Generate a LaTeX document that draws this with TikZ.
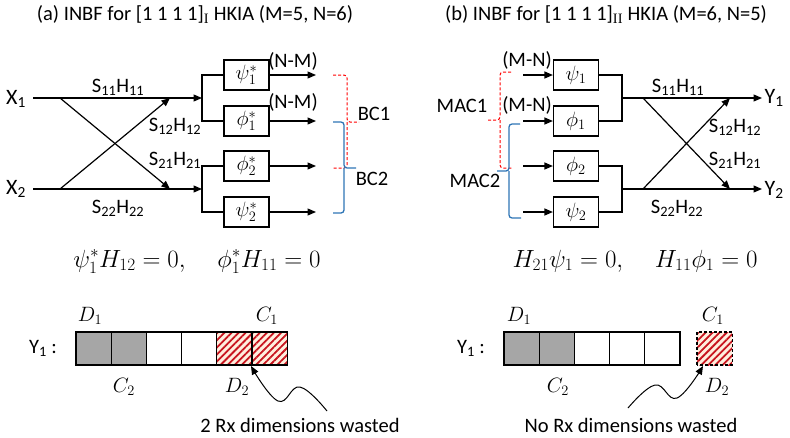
\documentclass[tikz,border=0pt]{standalone}
\usepackage{fontspec}
\setmainfont{Carlito}
\newfontfamily\serifsub{Liberation Serif}
\usetikzlibrary{arrows.meta,patterns.meta}
\definecolor{bblue}{RGB}{46,117,182}
\definecolor{hred}{RGB}{200,20,30}
\definecolor{hbg}{RGB}{255,238,222}
\definecolor{cgray}{RGB}{166,166,166}
\begin{document}
\begin{tikzpicture}[x=1pt,y=-1pt,line width=1.2pt,
  >={Triangle[length=8.5pt,width=7pt]},
  every node/.style={font=\fontsize{20.5}{24}\selectfont},
  mth/.style={font=\fontsize{22.5}{26}\selectfont},
  bx/.style={draw,minimum width=45pt,minimum height=30pt,inner sep=0pt,mth},
  lbl/.style={anchor=base,inner sep=0pt},
  big/.style={font=\fontsize{22}{26}\selectfont},
  cell/.style={draw,minimum width=35.2pt,minimum height=33pt,inner sep=0pt,outer sep=0pt},
  grayc/.style={cell,fill=cgray},
  hatchc/.style={cell,preaction={fill=hbg},pattern={Lines[angle=45,distance=5pt,line width=1.8pt]},pattern color=hred},
  rbrace/.style={red,line width=1pt,dash pattern=on 3pt off 2pt,rounded corners=3pt},
  bbrace/.style={bblue,line width=1.3pt,rounded corners=3pt}]
\useasboundingbox (0,0) rectangle (790,437);

% titles
\node[lbl] (ta) at (195,20) {(a) INBF for [1 1 1 1]\textsubscript{\serifsub I} HKIA (M=5, N=6)};
\node[lbl] (tb) at (606,20) {(b) INBF for [1 1 1 1]\textsubscript{\serifsub II} HKIA (M=6, N=5)};

% ---------- panel a ----------
\node[lbl,big] (x1) at (16,104) {X\textsubscript{1}};
\node[lbl,big] (x2) at (16,194) {X\textsubscript{2}};
\coordinate (x1s) at (33,98);
\coordinate (x2s) at (33,189);
\coordinate (x1c) at (60,98);
\coordinate (x2c) at (60,189);
\coordinate (x1m) at (170,98);
\coordinate (x2m) at (170,189);
\coordinate (s1) at (202,98);
\coordinate (s2) at (202,189);
\node[bx] (pa1) at (246.5,75) {$\psi_1^*$};
\node[bx] (pa2) at (246.5,121) {$\phi_1^*$};
\node[bx] (pa3) at (246.5,166) {$\phi_2^*$};
\node[bx] (pa4) at (246.5,212) {$\psi_2^*$};
\coordinate (oa1) at (316,75);
\coordinate (oa2) at (316,121);
\coordinate (oa3) at (316,166);
\coordinate (oa4) at (316,212);

\draw[->] (x1s) -- (s1);
\draw[->] (x2s) -- (s2);
\draw[->] (x1c) -- (x2m);
\draw[->] (x2c) -- (x1m);
\draw (pa1.west) -| (s1) |- (pa2.west);
\draw (pa3.west) -| (s2) |- (pa4.west);
\draw[->] (pa1.east) -- (oa1);
\draw[->] (pa2.east) -- (oa2);
\draw[->] (pa3.east) -- (oa3);
\draw[->] (pa4.east) -- (oa4);

\node[lbl] (nm1) at (293,67) {(N-M)};
\node[lbl] (nm2) at (293,108) {(N-M)};
\node[lbl] (sa11) at (118,92) {S\textsubscript{11}H\textsubscript{11}};
\node[lbl] (sa12) at (175,131) {S\textsubscript{12}H\textsubscript{12}};
\node[lbl] (sa21) at (175,165) {S\textsubscript{21}H\textsubscript{21}};
\node[lbl] (sa22) at (118,213) {S\textsubscript{22}H\textsubscript{22}};

% braces a
\coordinate (ra1) at (333,75);
\coordinate (ra2) at (347,122);
\coordinate (ra3) at (359,122);
\coordinate (ra4) at (333,168);
\draw[rbrace] (ra1) -| (ra2) -- (ra3);
\draw[rbrace] (ra2) |- (ra4);
\coordinate (ba1) at (333,122);
\coordinate (ba2) at (344,168);
\coordinate (ba3) at (356,168);
\coordinate (ba4) at (333,213);
\draw[bbrace] (ba1) -| (ba2) -- (ba3);
\draw[bbrace] (ba2) |- (ba4);
\node[lbl] (bc1) at (374,120) {BC1};
\node[lbl] (bc2) at (372,185) {BC2};

% ---------- panel b ----------
\node[bx] (pb1) at (576,75) {$\psi_1$};
\node[bx] (pb2) at (576,121) {$\phi_1$};
\node[bx] (pb3) at (576,166) {$\phi_2$};
\node[bx] (pb4) at (576,212) {$\psi_2$};
\coordinate (ib1) at (523,75);
\coordinate (ib2) at (523,121);
\coordinate (ib3) at (523,166);
\coordinate (ib4) at (523,212);
\draw[->] (ib1) -- (pb1.west);
\draw[->] (ib2) -- (pb2.west);
\draw[->] (ib3) -- (pb3.west);
\draw[->] (ib4) -- (pb4.west);
\coordinate (j1) at (622,98);
\coordinate (j2) at (622,189);
\draw (pb1.east) -| (j1) |- (pb2.east);
\draw (pb3.east) -| (j2) |- (pb4.east);
\coordinate (y1e) at (762,98);
\coordinate (y2e) at (762,189);
\coordinate (dc1) at (643,98);
\coordinate (dc2) at (643,189);
\coordinate (dm1) at (730,98);
\coordinate (dm2) at (730,189);
\draw[->] (j1) -- (y1e);
\draw[->] (j2) -- (y2e);
\draw[->] (dc1) -- (dm2);
\draw[->] (dc2) -- (dm1);
\node[lbl,big,anchor=base west] (y1) at (764,103) {Y\textsubscript{1}};
\node[lbl,big,anchor=base west] (y2) at (764,195) {Y\textsubscript{2}};

\node[lbl] (mn1) at (527,66) {(M-N)};
\node[lbl] (mn2) at (527,111) {(M-N)};
\node[lbl] (sb11) at (678,92) {S\textsubscript{11}H\textsubscript{11}};
\node[lbl] (sb12) at (735,132) {S\textsubscript{12}H\textsubscript{12}};
\node[lbl] (sb21) at (735,165) {S\textsubscript{21}H\textsubscript{21}};
\node[lbl] (sb22) at (677,213) {S\textsubscript{22}H\textsubscript{22}};

% braces b
\coordinate (rb1) at (511,72);
\coordinate (rb2) at (500,120);
\coordinate (rb3) at (487,120);
\coordinate (rb4) at (512,168);
\draw[rbrace] (rb1) -| (rb2) -- (rb3);
\draw[rbrace] (rb2) |- (rb4);
\coordinate (bb1) at (520,124);
\coordinate (bb2) at (509,171);
\coordinate (bb3) at (497,171);
\coordinate (bb4) at (521,218);
\draw[bbrace] (bb1) -| (bb2) -- (bb3);
\draw[bbrace] (bb2) |- (bb4);
\node[lbl] (mac1) at (462,112) {MAC1};
\node[lbl] (mac2) at (475,187) {MAC2};

% ---------- equations ----------
\node[lbl,mth,font=\fontsize{23}{27}\selectfont] (eqa) at (197,267) {$\psi_1^*H_{12}=0,\hspace{1.2em}\phi_1^*H_{11}=0$};
\node[lbl,mth,font=\fontsize{23}{27}\selectfont] (eqb) at (635,267) {$H_{21}\psi_1=0,\hspace{1.2em}H_{11}\phi_1=0$};

% ---------- bars a ----------
\node[lbl] (ya) at (43,353) {Y\textsubscript{1} :};
\node[grayc] (ca1) at (93.6,348.5) {};
\node[grayc] (ca2) at (128.8,348.5) {};
\node[cell] (ca3) at (164,348.5) {};
\node[cell] (ca4) at (199.2,348.5) {};
\node[hatchc] (ca5) at (234.4,348.5) {};
\node[hatchc] (ca6) at (269.6,348.5) {};
\node[lbl,mth] (da1) at (90,321) {$D_1$};
\node[lbl,mth] (ka1) at (267,321) {$C_1$};
\node[lbl,mth] (ka2) at (124,392) {$C_2$};
\node[lbl,mth] (da2) at (237,392) {$D_2$};
\coordinate (wa0) at (327,411);
\coordinate (wa1) at (300,387);
\coordinate (wa2) at (278,401);
\coordinate (wa3) at (251,366);
\draw[->,line width=1pt] plot[smooth,tension=0.7] coordinates {(wa0) (wa1) (wa2) (wa3)};
\node[lbl] (txa) at (300,432) {2 Rx dimensions wasted};

% ---------- bars b ----------
\node[lbl] (yb) at (471,353) {Y\textsubscript{1} :};
\node[grayc] (cb1) at (521.6,348.5) {};
\node[grayc] (cb2) at (556.8,348.5) {};
\node[cell] (cb3) at (592,348.5) {};
\node[cell] (cb4) at (627.2,348.5) {};
\node[cell] (cb5) at (662.4,348.5) {};
\node[hatchc,draw=none] (cb6) at (714.5,348.5) {};
\draw[dash pattern=on 3pt off 2pt] (cb6.south west) rectangle (cb6.north east);
\node[lbl,mth] (db1) at (519,321) {$D_1$};
\node[lbl,mth] (kb1) at (713,321) {$C_1$};
\node[lbl,mth] (kb2) at (558,392) {$C_2$};
\node[lbl,mth] (db2) at (717,392) {$D_2$};
\coordinate (wb0) at (628,408);
\coordinate (wb1) at (655,385);
\coordinate (wb2) at (677,398);
\coordinate (wb3) at (703,366);
\draw[->,line width=1pt] plot[smooth,tension=0.7] coordinates {(wb0) (wb1) (wb2) (wb3)};
\node[lbl] (txb) at (631,432) {No Rx dimensions wasted};
\end{tikzpicture}
\end{document}
